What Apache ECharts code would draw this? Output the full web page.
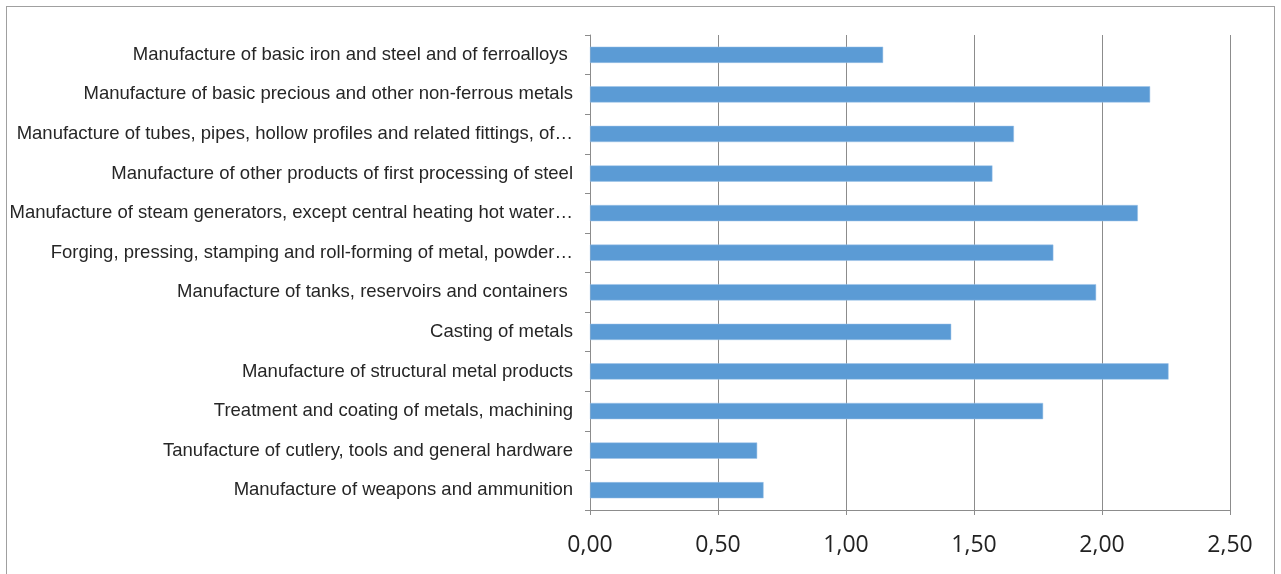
<!DOCTYPE html>
<html><head><meta charset="utf-8">
<script src="https://cdn.jsdelivr.net/npm/echarts@6/dist/echarts.min.js"></script>
<style>html,body{margin:0;padding:0;background:#fff}#c{width:1281px;height:574px}
#frame{position:absolute;left:6px;top:6px;width:1267px;height:580px;border:1px solid #a0a0a0;pointer-events:none}</style>
</head><body><div id="c"></div><div id="frame"></div>
<script>
const categories = [
  "Manufacture of basic iron and steel and of ferroalloys ",
  "Manufacture of basic precious and other non-ferrous metals",
  "Manufacture of tubes, pipes, hollow profiles and related fittings, of…",
  "Manufacture of other products of first processing of steel",
  "Manufacture of steam generators, except central heating hot water…",
  "Forging, pressing, stamping and roll-forming of metal, powder…",
  "Manufacture of tanks, reservoirs and containers ",
  "Casting of metals",
  "Manufacture of structural metal products",
  "Treatment and coating of metals, machining",
  "Tanufacture of cutlery, tools and general hardware",
  "Manufacture of weapons and ammunition"
];
const values = [1.145, 2.188, 1.656, 1.572, 2.14, 1.81, 1.977, 1.411, 2.26, 1.77, 0.653, 0.678];
const xTicks = [0, 0.5, 1, 1.5, 2, 2.5];

const chart = echarts.init(document.getElementById('c'));
chart.setOption({
  animation: false,
  grid: {left: 590, right: 51, top: 35, bottom: 64, containLabel: false},
  xAxis: {
    type: 'value', min: xTicks[0], max: xTicks[xTicks.length-1], interval: 0.5,
    axisLine: {show: true, lineStyle: {color: '#8c8c8c', width: 1}},
    axisTick: {show: true, length: 5, lineStyle: {color: '#8c8c8c'}},
    splitLine: {show: true, lineStyle: {color: '#8c8c8c', width: 1}},
    axisLabel: {color: '#222', fontFamily: 'Open Sans', fontSize: 23, margin: 24,
      formatter: v => v.toFixed(2).replace('.', ',')}
  },
  yAxis: {
    type: 'category', data: categories, inverse: true,
    axisLine: {show: true, lineStyle: {color: '#8c8c8c', width: 1}},
    axisTick: {show: true, length: 5, lineStyle: {color: '#8c8c8c'}},
    axisLabel: {color: '#262626', fontFamily: 'Liberation Sans', fontSize: 18.5, margin: 17}
  },
  series: [{
    type: 'bar', data: values, barWidth: '41%',
    itemStyle: {color: '#5b9bd5', borderColor: '#9cc3e8', borderWidth: 0.5}
  }]
});
</script></body></html>
